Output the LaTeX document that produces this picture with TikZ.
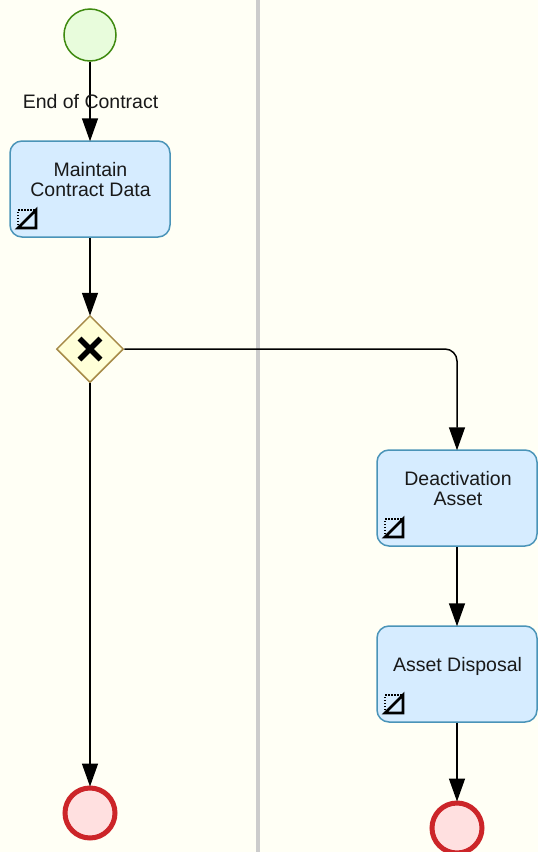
\documentclass[tikz,border=0pt]{standalone}
\usepackage{fontspec}
\setmainfont{Liberation Sans}
\usetikzlibrary{arrows.meta,shapes.geometric}
\definecolor{paper}{HTML}{FFFFF5}
\definecolor{taskfill}{HTML}{D6ECFF}
\definecolor{taskline}{HTML}{4A94B8}
\definecolor{startfill}{HTML}{E8FCDC}
\definecolor{startline}{HTML}{3F8A10}
\definecolor{gatefill}{HTML}{FFFFD8}
\definecolor{gateline}{HTML}{A68A48}
\definecolor{endfill}{HTML}{FFE0E0}
\definecolor{endline}{HTML}{CC2529}
\tikzset{
  every node/.style={font=\fontsize{19.5}{20}\selectfont},
  task/.style={draw=taskline,fill=taskfill,line width=1.5pt,rounded corners=12pt,minimum width=160pt,minimum height=96pt,inner sep=0pt},
  tasklabel/.style={align=center,inner sep=0pt,color=black!90},
  startevent/.style={circle,draw=startline,fill=startfill,line width=1.5pt,minimum size=52pt,inner sep=0pt},
  endevent/.style={circle,draw=endline,fill=endfill,line width=5pt,minimum size=50pt,inner sep=0pt},
  gateway/.style={diamond,draw=gateline,fill=gatefill,line width=1.5pt,minimum width=67pt,minimum height=67pt,inner sep=0pt},
  flow/.style={-{Triangle[length=23pt,width=16pt]},line width=1.5pt,rounded corners=12pt,shorten >=-1pt},
  manual/.pic={
    \draw[line width=2.8pt,line join=miter] (0,0) -- (18,-18) -- (18,0) -- cycle;
    \draw[line width=2.8pt,dash pattern=on 1.5pt off 1.5pt] (0,0) -- (0,-18) -- (18,-18);
  }
}
\begin{document}
\begin{tikzpicture}[x=1pt,y=-1pt]
\useasboundingbox (0,0) rectangle (538,852);
\clip (0,0) rectangle (538,852);
\fill[paper] (0,0) rectangle (538,852);
\draw[line width=4pt,color=black!20] (258,0) -- (258,852); % lane divider
% left lane
\node[startevent] (start) at (90,35) {};
\node[task] (maintain) at (90,189) {};
\node[tasklabel] (maintainlabel) at (90.5,180) {Maintain\\Contract Data};
\node[gateway] (gate) at (90,349) {};
\node[endevent] (endleft) at (90,813) {};
% right lane
\node[task] (deactivate) at (457,498) {};
\node[tasklabel] (deactivatelabel) at (458,489) {Deactivation\\Asset};
\node[task] (disposal) at (457,674) {};
\node[tasklabel] (disposallabel) at (457.5,666) {Asset Disposal};
\node[endevent] (endright) at (457,828) {};
% gateway cross
\draw[line width=5.5pt] (79.5,338.5) -- (100.5,359.5) (100.5,338.5) -- (79.5,359.5);
% task icons
\pic at (18,228) {manual};
\pic at (385,537) {manual};
\pic at (385,713) {manual};
% flows
\draw[flow] (start) -- (maintain);
\draw[flow] (maintain) -- (gate);
\draw[flow] (gate) -- (endleft);
\draw[flow] (gate) -| (deactivate);
\draw[flow] (deactivate) -- (disposal);
\draw[flow] (disposal) -- (endright);
\node[color=black!90] (contract) at (90.5,101.5) {End of Contract};
\end{tikzpicture}
\end{document}
